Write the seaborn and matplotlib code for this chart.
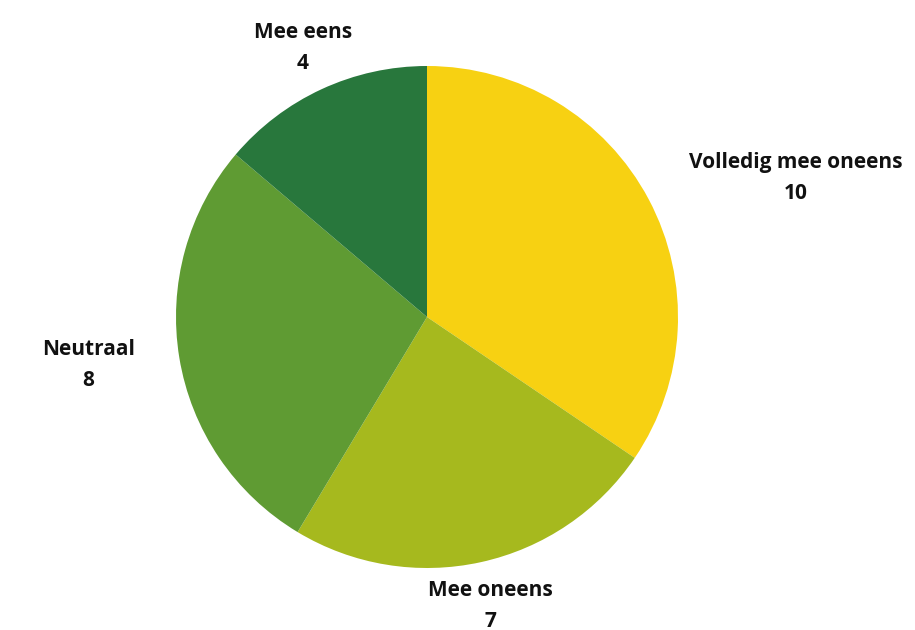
import numpy as np
import pandas as pd
import matplotlib
matplotlib.use("Agg")
import matplotlib.pyplot as plt
import seaborn as sns

categories = ["Volledig mee oneens", "Mee oneens", "Neutraal", "Mee eens"]
values = [10, 7, 8, 4]
colors = ["#F7D112", "#A6B91E", "#5F9B33", "#28773C"]

sns.set_theme(style="white")
plt.rcParams["font.family"] = ["Open Sans", "DejaVu Sans"]

df = pd.DataFrame({"category": categories, "value": values, "color": colors})

W, H = 915, 630
fig = plt.figure(figsize=(W / 100, H / 100), dpi=100)
cx, cy, r = 427, 317, 251
ax = fig.add_axes([(cx - r) / W, (H - cy - r) / H, 2 * r / W, 2 * r / H])

wedges, _ = ax.pie(df["value"], colors=df["color"], startangle=90, counterclock=False,
                   radius=1.0, wedgeprops=dict(linewidth=0))
ax.set_xlim(-1, 1)
ax.set_ylim(-1, 1)
ax.set_aspect("equal")
ax.axis("off")

for w, cat, val in zip(wedges, df["category"], df["value"]):
    ang = np.deg2rad((w.theta1 + w.theta2) / 2)
    c, s = np.cos(ang), np.sin(ang)
    rr = 1.18
    if abs(c) < 0.5:
        ha = "center"
    elif c > 0:
        ha = "left"
    else:
        ha = "right"
    ax.text(rr * c, rr * s, f"{cat}\n{val}", ha=ha, va="center", multialignment="center",
            fontsize=15, fontweight="bold", color="#111111", linespacing=1.62,
            clip_on=False)

fig.savefig("out.png", dpi=100, facecolor="white")
